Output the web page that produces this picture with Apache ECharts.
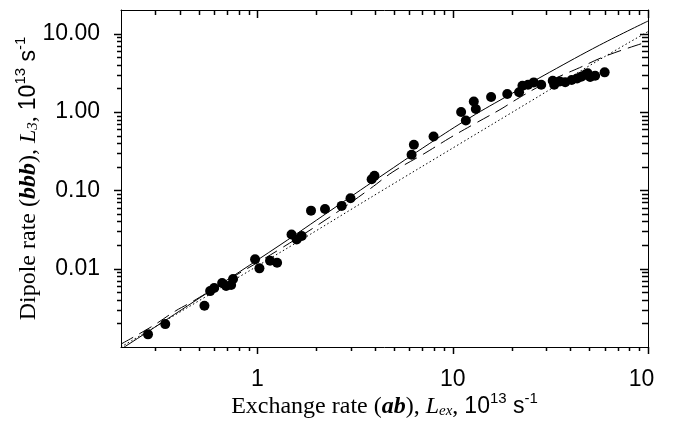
<!DOCTYPE html>
<html><head><meta charset="utf-8">
<script src="https://cdn.jsdelivr.net/npm/echarts@6/dist/echarts.min.js"></script>
<style>html,body{margin:0;padding:0;background:#fff}#c{width:655px;height:428px}</style>
</head><body><div id="c"></div>
<script>
// measured points: [Lex, L3]
const measuredPoints = [
  [0.275,0.00145],[0.337,0.00196],[0.535,0.00336],[0.572,0.00517],[0.600,0.00565],
  [0.659,0.00655],[0.691,0.00599],[0.733,0.00617],[0.750,0.00736],
  [0.972,0.01315],[1.023,0.01009],[1.160,0.01262],[1.260,0.0119],
  [1.494,0.0273],[1.588,0.02355],[1.685,0.02612],[1.880,0.055],[2.217,0.0578],
  [2.699,0.0632],[2.995,0.0792],[3.843,0.1387],[3.972,0.1528],[6.155,0.2836],
  [6.324,0.3807],[7.976,0.486],[11.04,0.997],[11.67,0.778],[12.82,1.362],[13.13,1.089],
  [15.72,1.551],[19.02,1.694],[21.87,1.786],[22.75,2.163],[24.30,2.228],[25.99,2.384],
  [28.39,2.228],[32.51,2.506],[33.09,2.228],[35.30,2.455],[37.67,2.398],[40.65,2.558],
  [43.37,2.673],[45.48,2.818],[47.67,2.99],[49.1,3.125],[50.56,2.794],[53.6,2.904],[59.98,3.2]
];
const solidCurve = [
  [0.2,0.000937],[0.5085,0.00427],[1.305,0.02003],[2.351,0.05453],[4.238,0.1484],[7.636,0.398],
  [12.23,0.843],[19.59,1.66],[31.39,3.219],[56.55,7.128],[100,14.45]
];
const dashedCurve = [
  [0.2,0.00109],[0.289,0.00184],[0.379,0.00287],[0.4685,0.00385],[0.724,0.00745],[1.305,0.0178],
  [2.351,0.0457],[3.767,0.1042],[4.939,0.1719],[7.114,0.292],[9.779,0.4747],[12.67,0.686],
  [17.42,1.067],[21.28,1.453],[26.93,2.039],[34.08,2.737],[44.67,3.675],[61.4,5.232],[100,7.9]
];
const dottedCurve = [
  [0.2,0.001],[1.468,0.01917],[4.238,0.0954],[10.87,0.392],[24.8,1.35],[56.5,4.65],[100,10.6]
];
const xMajorTicks = [1, 10, 100];
const xMinorTicks = [0.3,0.4,0.5,0.6,0.7,0.8,0.9,2,3,4,5,6,7,8,9,20,30,40,50,60,70,80,90];
const yMajorTicks = [0.01, 0.1, 1, 10];
const yMinorTicks = [0.002,0.003,0.004,0.005,0.006,0.007,0.008,0.009,0.02,0.03,0.04,0.05,0.06,0.07,0.08,0.09,
  0.2,0.3,0.4,0.5,0.6,0.7,0.8,0.9,2,3,4,5,6,7,8,9];
const xRange = [0.2, 100];
const yRange = [0.001, 20];

const SANS = 'Liberation Sans, Arial, sans-serif';
const SERIF = 'Liberation Serif, Times New Roman, serif';
const FS = 24, SFS = 15, LFS = 23;
const black = '#000';

function titleRich() {
  return {
    t: {fontFamily: SERIF, fontSize: FS, color: black},
    bi: {fontFamily: SERIF, fontSize: FS, fontStyle: 'italic', fontWeight: 'bold', color: black},
    i: {fontFamily: SERIF, fontSize: FS, fontStyle: 'italic', color: black},
    sub: {fontFamily: SERIF, fontSize: SFS, fontStyle: 'italic', color: black, padding: [10, 0, 0, 0]},
    s: {fontFamily: SANS, fontSize: FS - 1, color: black},
    sup: {fontFamily: SANS, fontSize: SFS, color: black, padding: [0, 0, 16, 0]}
  };
}

function logAxis(pos, range, labelTicks, fmt) {
  return {
    type: 'log', logBase: 10, position: pos, min: range[0], max: range[1],
    splitLine: {show: false}, minorTick: {show: false},
    axisLine: {show: true, onZero: false, lineStyle: {color: black, width: 1}},
    axisTick: {show: false},
    axisLabel: labelTicks ? {show: true, customValues: labelTicks, formatter: fmt, color: black,
      fontFamily: SANS, fontSize: LFS, margin: 21} : {show: false}
  };
}

const xAxes = [
  logAxis('bottom', xRange, xMajorTicks, v => String(v)),
  logAxis('top', xRange, null)
];
Object.assign(xAxes[0], {
  name: '{t|Exchange rate (}{bi|ab}{t|), }{i|L}{sub|ex}{t|, }{s|10}{sup|13}{s| s}{sup|-1}',
  nameLocation: 'middle', nameGap: 44, nameMoveOverlap: false, nameTextStyle: {rich: titleRich()}
});
const yAxes = [
  logAxis('left', yRange, yMajorTicks, v => Number(v).toFixed(2)),
  logAxis('right', yRange, null)
];
Object.assign(yAxes[0], {
  name: '{t|Dipole rate (}{bi|bbb}{t|), }{i|L}{sub|3}{t|, }{s|10}{sup|13}{s| s}{sup|-1}',
  nameLocation: 'middle', nameGap: 77, nameRotate: 90, nameMoveOverlap: false, nameTextStyle: {rich: titleRich()}
});

const chart = echarts.init(document.getElementById('c'), null, {renderer: 'canvas'});
chart.setOption({
  animation: false,
  backgroundColor: '#fff',
  grid: {left: 121, top: 10, width: 527, height: 337, outerBoundsMode: 'none', containLabel: false},
  xAxis: xAxes,
  yAxis: yAxes,
  series: [
    {type: 'line', data: solidCurve, showSymbol: false, smooth: 0.4, lineStyle: {color: black, width: 1, type: 'solid'}, z: 3},
    {type: 'line', data: dashedCurve, showSymbol: false, smooth: 0.4, lineStyle: {color: black, width: 1, type: [14, 7]}, z: 3},
    {type: 'line', data: dottedCurve, showSymbol: false, smooth: 0.4, lineStyle: {color: black, width: 1, type: [1.5, 2.5]}, z: 3},
    {type: 'scatter', data: measuredPoints, symbol: 'circle', symbolSize: 10, itemStyle: {color: black, opacity: 1}, z: 4}
  ]
});

// tick marks placed through the axes' own scales (convertToPixel)
const tickEls = [];
function addTicks(values, dim, at, dir, len) {
  values.forEach(function (v) {
    const p = chart.convertToPixel({xAxisIndex: 0, yAxisIndex: 0}, dim === 'x' ? [v, at] : [at, v]);
    if (!p || isNaN(p[0]) || isNaN(p[1])) { return; }
    let shape;
    if (dim === 'x') {
      const x = Math.round(p[0]) + 0.5;
      shape = {x1: x, y1: p[1], x2: x, y2: p[1] + dir * len};
    } else {
      const y = Math.round(p[1]) + 0.5;
      shape = {x1: p[0], y1: y, x2: p[0] + dir * len, y2: y};
    }
    tickEls.push({type: 'line', silent: true, z: 100, shape: shape, style: {stroke: black, lineWidth: 1.5}});
  });
}
addTicks(xMajorTicks, 'x', yRange[0], 1, 7);
addTicks(xMinorTicks, 'x', yRange[0], 1, 4);
addTicks(xMajorTicks, 'x', yRange[1], 1, 8);
addTicks(xMinorTicks, 'x', yRange[1], 1, 5);
addTicks(yMajorTicks, 'y', xRange[0], -1, 7);
addTicks(yMinorTicks, 'y', xRange[0], -1, 4);
addTicks(yMajorTicks, 'y', xRange[1], -1, 8);
addTicks(yMinorTicks, 'y', xRange[1], -1, 6);
chart.setOption({graphic: {elements: tickEls}});
</script>
</body></html>
